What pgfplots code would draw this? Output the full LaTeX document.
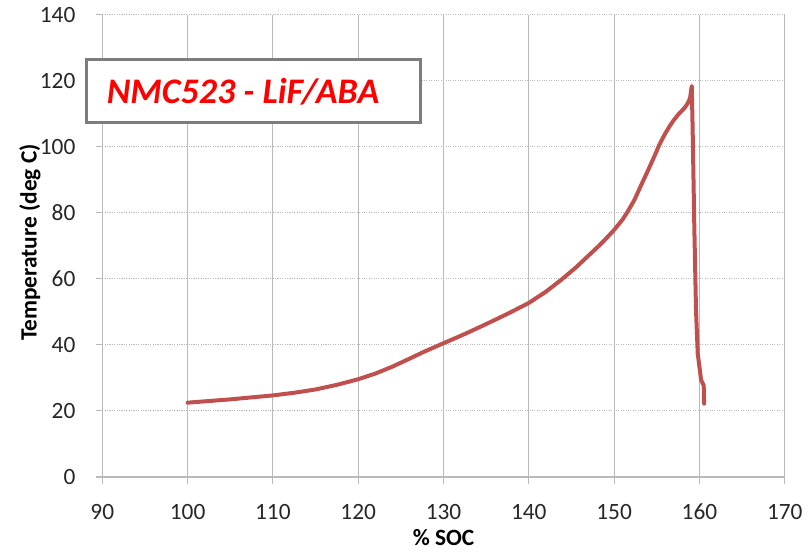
\documentclass[border=0pt]{standalone}
\usepackage{fontspec}
\setmainfont{Carlito}
\usepackage{pgfplots}
\pgfplotsset{compat=1.18}
\definecolor{curve}{RGB}{192,80,77}
\definecolor{gridc}{RGB}{185,185,185}
\definecolor{boxc}{RGB}{125,125,125}
\begin{document}
\begin{tikzpicture}
\begin{axis}[
  scale only axis, width=511.8pt, height=346.7pt,
  xmin=90, xmax=170, ymin=0, ymax=140,
  xtick={90,100,...,170}, ytick={0,20,...,140},
  axis x line*=bottom, axis y line*=left,
  axis line style={gridc, line width=0.8pt, -},
  xmajorgrids, ymajorgrids,
  x grid style={gridc, line width=0.8pt},
  y grid style={gridc, line width=0.8pt, densely dotted},
  tick align=outside, major tick length=5pt,
  tick style={gridc, line width=0.8pt},
  /pgf/number format/assume math mode=true,
  ticklabel style={font=\fontsize{17.5}{17.5}\selectfont, text=black!85, inner sep=0pt},
  xticklabel style={anchor=north, yshift=-15pt},
  yticklabel style={anchor=east, xshift=-15pt},
  xlabel={\% SOC}, ylabel={Temperature (deg C)},
  label style={font=\fontsize{17.5}{17.5}\selectfont\bfseries},
  xlabel style={at={(axis description cs:0.5,-0.13)}, anchor=center},
  ylabel style={at={(axis description cs:-0.106,0.507)}, anchor=center},
  clip=false,
]
\coordinate (SW) at (rel axis cs:0,0);
\coordinate (NE) at (rel axis cs:1,1);
\addplot[curve, line width=3pt, line join=round, line cap=round] coordinates {
 (100,22.5) (105,23.5) (110,24.7) (112.5,25.5) (115,26.5) (117.5,27.9)
 (120,29.6) (122,31.3) (124,33.4) (126,35.8) (127.7,37.9) (130,40.5)
 (132.5,43.3) (135,46.3) (137.5,49.4) (140,52.7) (142,56.1) (143.8,59.7)
 (145.5,63.4) (146.9,66.8) (148.5,70.7) (150,74.8) (151,78) (151.6,80.4)
 (152.4,84) (153.1,88) (154,93) (154.7,97) (155.3,100.6) (155.9,103.6)
 (156.5,106.2) (157,108.1) (157.6,110) (158.2,111.6) (158.6,113)
 (158.9,114.7) (159.1,118.4) (159.2,106) (159.4,75.8)
 (159.6,50.5) (159.8,37.4) (160.2,29.3) (160.5,27.8) (160.55,22.2)
};
\draw[boxc, line width=2.2pt, fill=white] (axis cs:88.1,107.4) rectangle (axis cs:127.3,126.4);
\node[text=red, anchor=base west, inner sep=0pt, font=\fontsize{27}{27}\selectfont\bfseries\itshape]
  at (axis cs:90.5,113.2) {NMC523 - LiF/ABA};
\end{axis}
\pgfresetboundingbox
\useasboundingbox ([shift={(-76.7pt,-56.25pt)}]SW) rectangle ([shift={(16.7pt,11pt)}]NE);
\end{tikzpicture}
\end{document}
